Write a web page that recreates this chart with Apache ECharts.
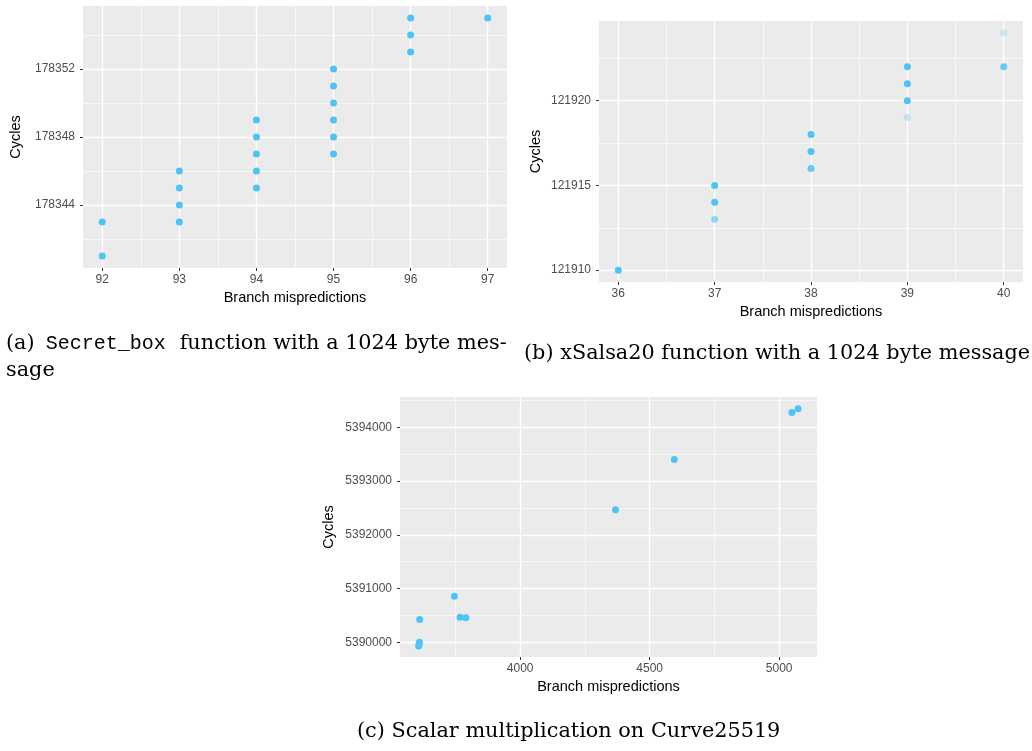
<!DOCTYPE html>
<html>
<head>
<meta charset="utf-8">
<script src="https://cdn.jsdelivr.net/npm/echarts@6/dist/echarts.min.js"></script>
<style>
html,body{margin:0;padding:0;background:#fff;}
#chart{width:1032px;height:751px;}
</style>
</head>
<body>
<div id="chart"></div>
<script>
// ---------- Data ----------
// (a) Secret_box
const aX = [92, 92, 93, 93, 93, 93, 94, 94, 94, 94, 94, 95, 95, 95, 95, 95, 95, 96, 96, 96, 97];
const aY = [178343, 178341, 178346, 178345, 178344, 178343, 178349, 178348, 178347, 178346, 178345,
            178352, 178351, 178350, 178349, 178348, 178347, 178355, 178354, 178353, 178355];
const aXTicks = [92, 93, 94, 95, 96, 97];
const aXMinor = [92.5, 93.5, 94.5, 95.5, 96.5];
const aYTicks = [178344, 178348, 178352];
const aYMinor = [178342, 178346, 178350, 178354];

// (b) xSalsa20
const bX = [36, 37, 37, 37, 38, 38, 38, 39, 39, 39, 39, 40, 40];
const bY = [121910, 121915, 121914, 121913, 121918, 121917, 121916, 121922, 121921, 121920, 121919, 121924, 121922];
const bAlpha = [1, 1, 1, 0.6, 1, 1, 0.85, 1, 1, 1, 0.3, 0.25, 0.85];
const bXTicks = [36, 37, 38, 39, 40];
const bXMinor = [36.5, 37.5, 38.5, 39.5];
const bYTicks = [121910, 121915, 121920];
const bYMinor = [121912.5, 121917.5, 121922.5];

// (c) Curve25519
const cX = [3608, 3610, 3611, 3612, 3746, 3768, 3790, 4368, 4595, 5049, 5073];
const cY = [5389930, 5389960, 5390000, 5390425, 5390857, 5390465, 5390455, 5392465, 5393401, 5394279, 5394345];
const cXTicks = [4000, 4500, 5000];
const cXMinor = [3750, 4250, 4750];
const cYTicks = [5390000, 5391000, 5392000, 5393000, 5394000];
const cYMinor = [5389500, 5390500, 5391500, 5392500, 5393500, 5394500];

const captionA1 = '(a)';
const captionA2 = 'Secret_box';
const captionA3 = 'function with a 1024 byte mes-';
const captionA4 = 'sage';
const captionB = '(b) xSalsa20 function with a 1024 byte message';
const captionC = '(c) Scalar multiplication on Curve25519';

// ---------- Styles ----------
const PT = '#4FC3F7';
const BG = '#EBEBEB';
const sansFont = 'Liberation Sans, Arial, sans-serif';
const serifFont = 'DejaVu Serif, Liberation Serif, serif';
const monoFont = 'Liberation Mono, DejaVu Sans Mono, monospace';
const CAP = 20.8;

const panels = [
  { grid: {left: 83, top: 6, width: 424, height: 262},
    xr: [91.75, 97.25], yr: [178340.3, 178355.7],
    xT: aXTicks, xM: aXMinor, yT: aYTicks, yM: aYMinor,
    x: aX, y: aY, alpha: null, yGap: 60 },
  { grid: {left: 599, top: 21, width: 424, height: 261},
    xr: [35.8, 40.2], yr: [121909.3, 121924.7],
    xT: bXTicks, xM: bXMinor, yT: bYTicks, yM: bYMinor,
    x: bX, y: bY, alpha: bAlpha, yGap: 56 },
  { grid: {left: 400, top: 397, width: 417, height: 260},
    xr: [3536, 5146], yr: [5389725, 5394566],
    xT: cXTicks, xM: cXMinor, yT: cYTicks, yM: cYMinor,
    x: cX, y: cY, alpha: null, yGap: 64 }
];

const grids = [], xAxes = [], yAxes = [], series = [];
const plain = v => String(Math.round(v));
panels.forEach((p, i) => {
  grids.push(Object.assign({show: true, backgroundColor: BG, borderWidth: 0, containLabel: false}, p.grid));
  const common = {
    type: 'value', gridIndex: i, scale: true,
    axisLine: {show: false},
    axisTick: {show: true, length: 3, lineStyle: {color: '#333333', width: 1}},
    splitLine: {show: false},
    nameLocation: 'middle',
    nameTextStyle: {color: '#000000', fontSize: 14.5, fontFamily: sansFont}
  };
  xAxes.push(Object.assign({}, common, {
    min: p.xr[0], max: p.xr[1],
    axisTick: Object.assign({}, common.axisTick, {customValues: p.xT}),
    axisLabel: {customValues: p.xT, formatter: plain, color: '#4D4D4D', fontSize: 12, fontFamily: sansFont, margin: 6},
    name: 'Branch mispredictions', nameGap: 22
  }));
  yAxes.push(Object.assign({}, common, {
    min: p.yr[0], max: p.yr[1],
    axisTick: Object.assign({}, common.axisTick, {customValues: p.yT}),
    axisLabel: {customValues: p.yT, formatter: plain, color: '#4D4D4D', fontSize: 12, fontFamily: sansFont, margin: 8},
    name: 'Cycles', nameGap: p.yGap, nameRotate: 90
  }));
  const lines = [];
  p.xM.forEach(v => lines.push({xAxis: v, lineStyle: {width: 0.6}}));
  p.yM.forEach(v => lines.push({yAxis: v, lineStyle: {width: 0.6}}));
  p.xT.forEach(v => lines.push({xAxis: v, lineStyle: {width: 1.4}}));
  p.yT.forEach(v => lines.push({yAxis: v, lineStyle: {width: 1.4}}));
  series.push({
    type: 'scatter', xAxisIndex: i, yAxisIndex: i, z: 3,
    symbol: 'circle', symbolSize: 7,
    itemStyle: {color: PT, opacity: 1},
    emphasis: {disabled: true},
    data: p.x.map((xv, k) => {
      const item = {value: [xv, p.y[k]]};
      if (p.alpha) item.itemStyle = {opacity: p.alpha[k]};
      return item;
    }),
    markLine: {
      silent: true, z: 1, symbol: ['none', 'none'], animation: false,
      label: {show: false},
      lineStyle: {color: '#FFFFFF', type: 'solid', width: 1},
      emphasis: {disabled: true},
      data: lines
    }
  });
});

const chart = echarts.init(document.getElementById('chart'), null, {renderer: 'canvas'});
chart.setOption({
  animation: false,
  backgroundColor: '#FFFFFF',
  grid: grids, xAxis: xAxes, yAxis: yAxes, series: series,
  graphic: [
    { type: 'text', left: 6, top: 333,
      style: { rich: {
          s: {fontFamily: serifFont, fontSize: CAP, fill: '#000'},
          t: {fontFamily: monoFont, fontSize: 20, fill: '#000', padding: [0, 14, 0, 11]} },
        text: '{s|' + captionA1 + '}{t|' + captionA2 + '}{s|' + captionA3 + '}' } },
    { type: 'text', left: 6, top: 360,
      style: {text: captionA4, fontFamily: serifFont, fontSize: CAP, fill: '#000'} },
    { type: 'text', left: 524, top: 343,
      style: {text: captionB, fontFamily: serifFont, fontSize: CAP, fill: '#000'} },
    { type: 'text', left: 357, top: 721,
      style: {text: captionC, fontFamily: serifFont, fontSize: CAP, fill: '#000'} }
  ]
});
</script>
</body>
</html>
